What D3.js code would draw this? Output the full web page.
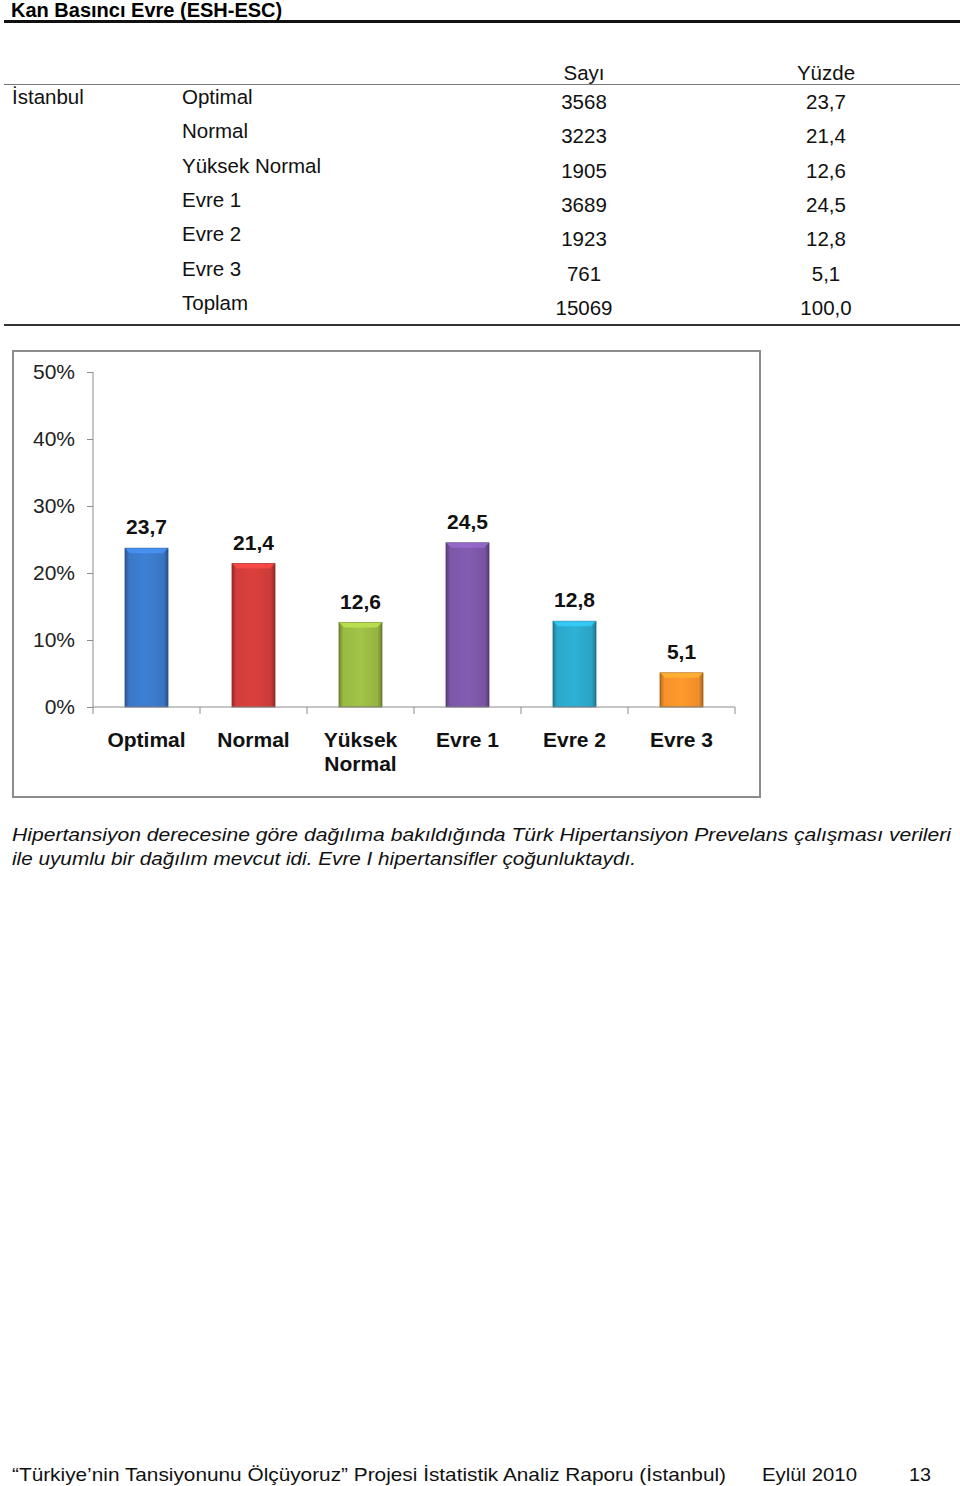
<!DOCTYPE html>
<html>
<head>
<meta charset="utf-8">
<script src="https://cdn.jsdelivr.net/npm/d3@7"></script>
<style>
  body { margin: 0; background: #fff; }
  svg { display: block; font-family: "Liberation Sans", Arial, sans-serif; }
</style>
</head>
<body>
<svg id="page"></svg>
<script>
var categories = ['Optimal', 'Normal', 'Yüksek Normal', 'Evre 1', 'Evre 2', 'Evre 3'];
var counts = [3568, 3223, 1905, 3689, 1923, 761];
var percents = [23.7, 21.4, 12.6, 24.5, 12.8, 5.1];
var yTicks = [0, 10, 20, 30, 40, 50];
var barColors = ['#3b78c9', '#d13d3a', '#9aba43', '#7c57a8', '#2ca8cb', '#f7922a'];
var totalCount = 15069;
var totalPercent = 100.0;

var fmt = function (v) { return d3.format('.1f')(v).replace('.', ','); };

var svg = d3.select('svg#page')
    .attr('width', 960)
    .attr('height', 1486);

// title
svg.append('text')
    .attr('x', 11).attr('y', 16.5)
    .attr('font-size', 20).attr('font-weight', 'bold')
    .text('Kan Basıncı Evre (ESH-ESC)');
svg.append('rect')
    .attr('x', 4).attr('y', 20).attr('width', 956).attr('height', 3)
    .attr('fill', '#111');

// table
var table = svg.append('g').attr('font-size', 20.5).attr('fill', '#111');
var rowY = d3.scaleLinear().domain([0, 1]).range([104, 138.3]);
var colSay = 584, colYuz = 826;

table.append('text').attr('x', colSay).attr('y', 80).attr('text-anchor', 'middle').text('Sayı');
table.append('text').attr('x', colYuz).attr('y', 80).attr('text-anchor', 'middle').text('Yüzde');
svg.append('line')
    .attr('x1', 4).attr('x2', 960).attr('y1', 84.5).attr('y2', 84.5)
    .attr('stroke', '#777').attr('stroke-width', 1);
table.append('text').attr('x', 12).attr('y', rowY(0)).text('İstanbul');

var rows = categories.map(function (c, i) {
    return { label: c, count: counts[i], pct: percents[i] };
});
rows.push({ label: 'Toplam', count: totalCount, pct: totalPercent });

var tr = table.selectAll('g.row').data(rows).enter().append('g').classed('row', true);
tr.append('text').attr('x', 182).attr('y', function (d, i) { return rowY(i); })
    .text(function (d) { return d.label; });
tr.append('text').attr('x', colSay).attr('y', function (d, i) { return rowY(i) + 5; })
    .attr('text-anchor', 'middle').text(function (d) { return d.count; });
tr.append('text').attr('x', colYuz).attr('y', function (d, i) { return rowY(i) + 5; })
    .attr('text-anchor', 'middle').text(function (d) { return fmt(d.pct); });
svg.append('rect')
    .attr('x', 4).attr('y', 324).attr('width', 956).attr('height', 2)
    .attr('fill', '#333');

// chart frame
svg.append('rect')
    .attr('x', 13).attr('y', 351).attr('width', 747).attr('height', 446)
    .attr('fill', '#fff').attr('stroke', '#8c8c8c').attr('stroke-width', 2);

var x = d3.scaleBand().domain(categories).range([93, 735]).paddingInner(0).paddingOuter(0);
var y = d3.scaleLinear().domain([0, 50]).range([707, 372]);
var barW = 43;

var defs = svg.append('defs');
barColors.forEach(function (c, i) {
    var g = defs.append('linearGradient').attr('id', 'bar' + i)
        .attr('x1', 0).attr('x2', 1).attr('y1', 0).attr('y2', 0);
    var base = d3.color(c);
    g.append('stop').attr('offset', '0%').attr('stop-color', base.darker(0.9));
    g.append('stop').attr('offset', '10%').attr('stop-color', base);
    g.append('stop').attr('offset', '50%').attr('stop-color', base.brighter(0.15));
    g.append('stop').attr('offset', '90%').attr('stop-color', base.darker(0.1));
    g.append('stop').attr('offset', '100%').attr('stop-color', base.darker(1));
});

// y axis
var yAxis = d3.axisLeft(y).tickValues(yTicks).tickSize(6).tickPadding(12)
    .tickFormat(function (d) { return d + '%'; });
var gy = svg.append('g').attr('transform', 'translate(93,0)').call(yAxis);
gy.selectAll('path, line').attr('stroke', '#8c8c8c');
gy.selectAll('text').attr('font-size', 21).attr('fill', '#222')
    .attr('font-family', '"Liberation Sans", Arial, sans-serif');
gy.select('path').attr('d', 'M0,' + y(50) + 'V' + y(0));

// bars
var bars = svg.selectAll('g.bar').data(categories).enter().append('g').classed('bar', true);
bars.append('rect')
    .attr('x', function (d) { return x(d) + x.bandwidth() / 2 - barW / 2; })
    .attr('y', function (d, i) { return y(percents[i]); })
    .attr('width', barW)
    .attr('height', function (d, i) { return y(0) - y(percents[i]); })
    .attr('fill', function (d, i) { return 'url(#bar' + i + ')'; })
    .attr('stroke', function (d, i) { return d3.color(barColors[i]).darker(1.2); })
    .attr('stroke-width', 0.8);
bars.append('path')
    .attr('d', function (d, i) {
        var x0 = x(d) + x.bandwidth() / 2 - barW / 2, y0 = y(percents[i]);
        return 'M' + x0 + ',' + y0 + 'H' + (x0 + barW) + 'L' + (x0 + barW - 5) + ',' + (y0 + 5) +
            'H' + (x0 + 5) + 'Z';
    })
    .attr('fill', function (d, i) { return d3.color(barColors[i]).brighter(0.6); })
    .attr('opacity', 0.8);
bars.append('text')
    .attr('x', function (d) { return x(d) + x.bandwidth() / 2; })
    .attr('y', function (d, i) { return y(percents[i]) - 14; })
    .attr('text-anchor', 'middle')
    .attr('font-size', 21).attr('font-weight', 'bold').attr('fill', '#111')
    .text(function (d, i) { return fmt(percents[i]); });

// x axis
var xAxis = d3.axisBottom(x).tickSize(0).tickFormat('');
var gx = svg.append('g').attr('transform', 'translate(0,' + y(0) + ')').call(xAxis);
gx.select('path').attr('stroke', '#8c8c8c').attr('d', 'M93,0H735');
var bounds = categories.map(function (d) { return x(d); }).concat([x.range()[1]]);
gx.selectAll('line.bound').data(bounds).enter().append('line').classed('bound', true)
    .attr('x1', function (d) { return d; }).attr('x2', function (d) { return d; })
    .attr('y1', 0).attr('y2', 7).attr('stroke', '#8c8c8c');

var labels = svg.selectAll('text.cat').data(categories).enter().append('text').classed('cat', true)
    .attr('x', function (d) { return x(d) + x.bandwidth() / 2; })
    .attr('y', 747)
    .attr('text-anchor', 'middle')
    .attr('font-size', 21).attr('font-weight', 'bold').attr('fill', '#111');
labels.each(function (d) {
    var parts = d.split(' ');
    var t = d3.select(this);
    if (d === 'Yüksek Normal') {
        parts.forEach(function (p, j) {
            t.append('tspan').attr('x', x(d) + x.bandwidth() / 2).attr('dy', j === 0 ? 0 : 24).text(p);
        });
    } else {
        t.text(d);
    }
});

// caption
var caption = [
    'Hipertansiyon derecesine göre dağılıma bakıldığında Türk Hipertansiyon Prevelans çalışması verileri',
    'ile uyumlu bir dağılım mevcut idi. Evre I hipertansifler çoğunluktaydı.'
];
var capW = [939, 624];
svg.selectAll('text.caption').data(caption).enter().append('text').classed('caption', true)
    .attr('x', 12).attr('y', function (d, i) { return 841 + i * 24; })
    .attr('font-size', 19).attr('font-style', 'italic').attr('fill', '#111')
    .attr('textLength', function (d, i) { return capW[i]; })
    .attr('lengthAdjust', 'spacingAndGlyphs')
    .text(function (d) { return d; });

// footer
var footer = [
    { t: '\u201cTürkiye\u2019nin Tansiyonunu Ölçüyoruz\u201d Projesi İstatistik Analiz Raporu (İstanbul)', x: 12, w: 714 },
    { t: 'Eylül 2010', x: 762, w: 95 },
    { t: '13', x: 909, w: 22 }
];
svg.selectAll('text.footer').data(footer).enter().append('text').classed('footer', true)
    .attr('x', function (d) { return d.x; }).attr('y', 1481)
    .attr('font-size', 19).attr('fill', '#111')
    .attr('textLength', function (d) { return d.w; })
    .attr('lengthAdjust', 'spacingAndGlyphs')
    .text(function (d) { return d.t; });
</script>
</body>
</html>
